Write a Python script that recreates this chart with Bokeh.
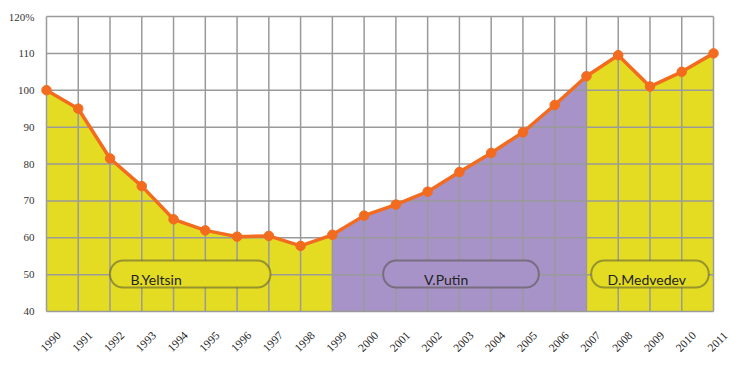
import math
from bokeh.plotting import figure
from bokeh.models import BoxAnnotation, Label, Range1d
from bokeh.embed import file_html
from bokeh.resources import INLINE

years = list(range(1990, 2012))
values = [100, 95, 81.5, 74, 65, 62, 60.3, 60.5, 57.8, 60.8, 66, 69, 72.5, 77.8,
          83, 88.6, 96, 103.8, 109.5, 101, 105, 110]
year_labels = [str(y) for y in years]
y_ticks = [40, 50, 60, 70, 80, 90, 100, 110, 120]
y_tick_labels = ["40", "50", "60", "70", "80", "90", "100", "110", "120%"]

periods = ["B.Yeltsin", "V.Putin", "D.Medvedev"]
period_start = [1990, 1999, 2007]
period_end = [1999, 2007, 2011]
period_colors = ["#e4dc22", "#a893c8", "#e4dc22"]
label_left = [1992.0, 2000.6, 2007.15]
label_right = [1997.05, 2005.5, 2010.85]
label_x = [1993.45, 2002.58, 2008.9]

GRID = "#9a9a9a"
ORANGE = "#f26b1f"

# layout constants (pixels): chart area inside the figure
W, H = 730, 360
AREA_L, AREA_R, AREA_T, AREA_B = 46, 713, 16, 311

x0, x1 = years[0], years[-1]
y0, y1 = y_ticks[0], y_ticks[-1]
ppx = (AREA_R - AREA_L) / (x1 - x0)
ppy = (AREA_B - AREA_T) / (y1 - y0)

p = figure(width=W, height=H, output_backend="svg", toolbar_location=None,
           x_range=Range1d(x0 - AREA_L / ppx, x1 + (W - AREA_R) / ppx),
           y_range=Range1d(y0 - (H - AREA_B) / ppy, y1 + AREA_T / ppy),
           min_border_left=0, min_border_right=0, min_border_top=0, min_border_bottom=0)
p.xaxis.visible = False
p.yaxis.visible = False
p.grid.visible = False
p.outline_line_color = None
p.background_fill_color = "white"
p.border_fill_color = "white"

# period fills
for s, e, c in zip(period_start, period_end, period_colors):
    xs = [y for y in years if s <= y <= e]
    ys = [values[years.index(y)] for y in xs]
    r = p.varea(x=xs, y1=[y0] * len(xs), y2=ys, fill_color=c, fill_alpha=1.0)
    r.level = "image"

# grid
gv = p.segment(x0=years, y0=[y0] * len(years), x1=years, y1=[y1] * len(years),
               line_color=GRID, line_width=1.5)
gh = p.segment(x0=[x0] * len(y_ticks), y0=y_ticks, x1=[x1] * len(y_ticks), y1=y_ticks,
               line_color=GRID, line_width=1.5)
gv.level = "underlay"
gh.level = "underlay"

p.line(years, values, line_color=ORANGE, line_width=3.5)
p.scatter(years, values, size=9.5, marker="circle", fill_color=ORANGE, line_color=ORANGE)

# period labels
for name, l, r_, lx, c in zip(periods, label_left, label_right, label_x, period_colors):
    box = BoxAnnotation(left=l, right=r_, bottom=46.5, top=53.8, fill_color=c, fill_alpha=1.0,
                        line_color="#4a4a3a", line_alpha=0.5, line_width=2, border_radius=13)
    p.add_layout(box)
    p.add_layout(Label(x=lx, y=48.6, text=name, text_align="center", text_baseline="middle",
                       text_font="Lato", text_font_size="14px", text_color="#222222"))

# y tick labels
p.text(x=[x0] * len(y_ticks), y=y_ticks, text=y_tick_labels, x_offset=-12,
       text_align="right", text_baseline="middle", text_font="Lato",
       text_font_size="11px", text_color="#333333")

# x tick labels, rotated
p.text(x=years, y=[y0] * len(years), text=year_labels, angle=math.pi / 4,
       x_offset=4, y_offset=30, text_align="center", text_baseline="middle",
       text_font="DejaVu Sans", text_font_size="11.5px", text_color="#1e1e1e")

open("out.html", "w").write(file_html(p, INLINE))
